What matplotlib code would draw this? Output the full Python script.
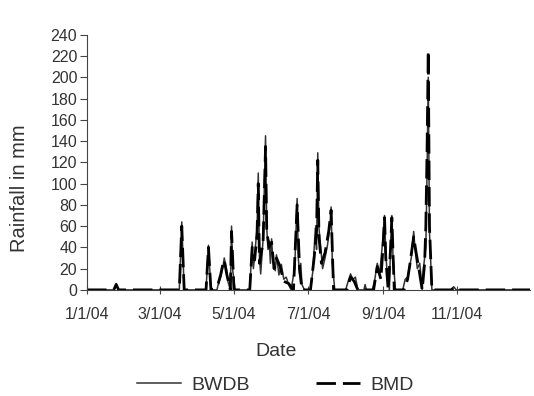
import numpy as np
import pandas as pd
import matplotlib
matplotlib.use("Agg")
import matplotlib.pyplot as plt

plt.rcParams["font.family"] = ["Liberation Sans", "DejaVu Sans"]

# ------------------------------------------------------------
# DATA (day offset from 1 Jan 2004, rainfall in mm)
# ------------------------------------------------------------
bwdb_day = [0, 22, 24, 26, 76, 78, 80, 98, 100, 102, 107, 108, 110, 112, 113, 115, 116, 118,
            119, 120, 122, 134, 136, 137, 138, 140, 141, 142, 143, 145, 147, 148, 149, 150,
            151, 152, 153, 155, 156, 158, 160, 162, 164, 166, 168, 171, 173, 174, 175, 176,
            177, 179, 184, 186, 188, 189, 190, 191, 192, 194, 196, 198, 200, 201, 202, 204,
            213, 215, 217, 219, 221, 223, 228, 229, 230, 235, 237, 239, 241, 243, 245, 246,
            247, 249, 250, 251, 252, 254, 260, 262, 264, 267, 269, 270, 272, 274, 276, 277,
            279, 280, 281, 282, 284, 300, 302, 304, 365]
bwdb_mm = [0, 0, 6, 0, 0, 64, 0, 0, 42, 0, 0, 5, 12, 22, 30, 18, 8, 0,
           60, 18, 0, 0, 45, 20, 32, 58, 110, 30, 15, 48, 145, 58, 38, 46,
           25, 48, 28, 18, 33, 14, 24, 10, 12, 5, 0, 20, 86, 30, 15, 25,
           5, 0, 0, 18, 58, 38, 129, 58, 45, 20, 30, 42, 60, 78, 25, 0,
           0, 8, 15, 10, 12, 0, 0, 5, 0, 0, 10, 25, 15, 40, 70, 35,
           18, 0, 45, 70, 30, 0, 0, 10, 12, 30, 55, 40, 20, 25, 0, 20,
           40, 110, 200, 55, 0, 0, 3, 0, 0]

bmd_day = [0, 22, 24, 26, 76, 78, 80, 98, 100, 102, 108, 110, 112, 113, 115, 117, 118,
           119, 121, 134, 136, 138, 140, 141, 142, 145, 147, 148, 150, 152, 154, 156, 159,
           162, 166, 170, 173, 175, 177, 184, 187, 189, 190, 191, 193, 196, 199, 201, 203,
           214, 217, 220, 223, 236, 239, 242, 244, 245, 246, 248, 250, 251, 253, 261, 264,
           266, 269, 271, 273, 276, 278, 279, 280, 281, 282, 284, 300, 302, 304, 365]
bmd_mm = [0, 0, 5, 0, 0, 60, 0, 0, 40, 0, 6, 14, 25, 28, 15, 5, 0,
          55, 0, 0, 40, 28, 52, 100, 25, 45, 135, 55, 40, 45, 20, 30, 22,
          8, 6, 0, 80, 20, 0, 0, 30, 55, 122, 50, 25, 35, 55, 75, 0,
          0, 12, 8, 0, 0, 22, 10, 45, 68, 30, 0, 40, 68, 0, 0, 10,
          25, 50, 35, 22, 0, 25, 60, 130, 225, 60, 0, 0, 2, 0, 0]

start = pd.Timestamp("2004-01-01")
bwdb_dates = start + pd.to_timedelta(bwdb_day, unit="D")
bmd_dates = start + pd.to_timedelta(bmd_day, unit="D")

tick_dates = pd.to_datetime(["2004-01-01", "2004-03-01", "2004-05-01",
                             "2004-07-01", "2004-09-01", "2004-11-01"])

# ------------------------------------------------------------
# PLOT
# ------------------------------------------------------------
fig = plt.figure(figsize=(5.34, 3.96), dpi=100)
ax = fig.add_axes([0.163, 0.268, 0.83, 0.644])

ax.plot(bwdb_dates, bwdb_mm, color="#333333", lw=1.1, label="BWDB")
ax.plot(bmd_dates, bmd_mm, color="black", lw=2.0, ls=(0, (7, 2.5)), label="BMD")

ax.set_ylim(0, 240)
ax.set_yticks(np.arange(0, 241, 20))
ax.set_xlim(start, pd.Timestamp("2004-12-31"))
ax.set_xticks(tick_dates)
ax.set_xticklabels([f"{d.month}/{d.day}/{d:%y}" for d in tick_dates])

for s in ["top", "right"]:
    ax.spines[s].set_visible(False)
ax.spines["left"].set_color("#444444")
ax.spines["bottom"].set_color("#444444")

ax.tick_params(axis="y", direction="out", length=5, labelsize=11.5, colors="#444444",
               labelcolor="#333333", pad=2)
ax.tick_params(axis="x", direction="inout", length=6, labelsize=11.5, colors="#444444",
               labelcolor="#333333", pad=9)

ax.set_ylabel("Rainfall in mm", fontsize=14.5, color="#333333", va="center")
ax.yaxis.set_label_coords(-0.153, 0.40)
ax.set_xlabel("Date", fontsize=14, color="#333333", va="center")
ax.xaxis.set_label_coords(0.427, -0.243)

fig.legend(loc="center", bbox_to_anchor=(0.515, 0.028), ncol=2, frameon=False,
           fontsize=14, handlelength=2.3, handletextpad=0.5, columnspacing=3.4,
           labelcolor="#333333")

fig.savefig("out.png", dpi=100, facecolor="white")
